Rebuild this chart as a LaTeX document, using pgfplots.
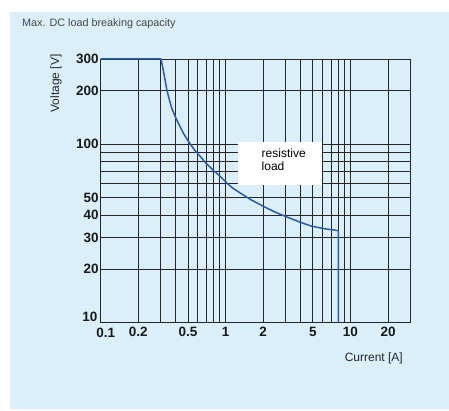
\documentclass[border=0pt]{standalone}
\usepackage{pgfplots}
\pgfplotsset{compat=1.18}
\usepackage{fontspec}
\setmainfont{Liberation Sans}
\definecolor{bgblue}{RGB}{219,239,250}
\definecolor{curveblue}{RGB}{38,92,170}
\definecolor{titlegray}{RGB}{70,70,70}
\begin{document}
\begin{tikzpicture}[x=1pt,y=1pt]
\fill[white] (0,0) rectangle (449,410);
\fill[bgblue] (10,1) rectangle (449,398);
\node[anchor=base west, font=\fontsize{10.8}{13}\selectfont, text=titlegray, inner sep=0] at (22,383) {Max. DC load breaking capacity};
\begin{axis}[
  at={(100.7pt,87.3pt)}, anchor=south west,
  scale only axis, width=309.3pt, height=263.7pt,
  xmode=log, ymode=log,
  xmin=0.1, xmax=30, ymin=10, ymax=300,
  clip=false,
  xtick={0.1,0.2,0.5,1,2,5,10,20},
  xticklabels={{},0.2,0.5,1,2,5,10,20},
  minor xtick={0.3,0.4,0.6,0.7,0.8,0.9,3,4,6,7,8,9},
  ytick={10,20,30,40,50,100,200,300},
  yticklabels={{},20,30,40,50,100,200,300},
  minor ytick={60,70,80,90},
  grid=both,
  major grid style={black!85, line width=0.9pt},
  minor grid style={black!85, line width=0.9pt},
  axis line style={black!85, line width=0.9pt},
  major tick length=0pt, minor tick length=0pt,
  /pgf/number format/assume math mode=true,
  ticklabel style={font=\fontsize{13.5}{13.5}\selectfont\bfseries, text=black!90},
  xticklabel style={yshift=-0.5pt},
  yticklabel style={xshift=1.5pt},
]
\addplot[curveblue, line width=1.5pt, line join=round] coordinates {
(0.1,300) (0.304,300) (0.312,275) (0.319,254) (0.329,225) (0.34,199) (0.355,177) (0.372,158)
(0.395,143) (0.421,130) (0.46,115) (0.507,103) (0.574,91.4) (0.63,85) (0.70,78)
(0.805,71) (0.912,65.8) (1.03,60.4) (1.15,56.5) (1.32,53.1) (1.6,48.8) (2.03,44.7) (2.5,41.6)
(3.13,39) (3.9,36.7) (4.83,34.8) (6.2,33.6) (8,32.8) (8,10)
};
\node[anchor=east, font=\fontsize{13.5}{13.5}\selectfont\bfseries, text=black!90, inner sep=0]
  at (rel axis cs:0,0) [xshift=-3pt, yshift=5.5pt] {10};
\node[anchor=north, font=\fontsize{13.5}{13.5}\selectfont\bfseries, text=black!90, inner sep=0]
  at (rel axis cs:0,0) [xshift=5pt, yshift=-5pt] {0.1};
\end{axis}
\fill[white] (238,225) rectangle (322,268);
\node[anchor=base west, font=\fontsize{12}{14}\selectfont, align=left, inner sep=0] at (261.5,239) {resistive\\load};
\node[anchor=base east, font=\fontsize{12}{14}\selectfont, text=black!85, inner sep=0] at (403,48.5) {Current [A]};
\node[rotate=90, anchor=base, font=\fontsize{12}{14}\selectfont, text=black!85, inner sep=0] at (59,326.5) {Voltage [V]};
\end{tikzpicture}
\end{document}
